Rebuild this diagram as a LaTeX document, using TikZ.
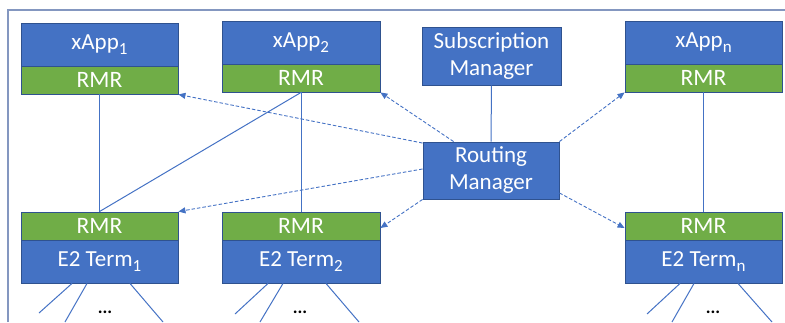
\documentclass[tikz,border=0pt]{standalone}
\usepackage{fontspec}
\setmainfont{Carlito}
\usetikzlibrary{arrows.meta,calc}
\definecolor{boxblue}{HTML}{4472C4}
\definecolor{boxgreen}{HTML}{70AD47}
\definecolor{edgeblue}{HTML}{2F528F}
\definecolor{lineblue}{HTML}{4472C4}
\definecolor{framecol}{HTML}{8497C0}
\newcommand{\sbs}[1]{\raisebox{-5.5pt}{\fontsize{17}{17}\selectfont #1}}
\tikzset{
  bluebox/.style={draw=edgeblue,line width=0.9pt,fill=boxblue,text=white,inner sep=0pt,
    font=\fontsize{23}{27}\selectfont,align=center},
  greenbox/.style={draw=edgeblue,line width=0.9pt,fill=boxgreen,text=white,inner sep=0pt,
    font=\fontsize{23.5}{27}\selectfont},
  conn/.style={draw=lineblue,line width=1pt},
  dconn/.style={draw=lineblue,line width=0.9pt,dash pattern=on 3.5pt off 2pt,
    -{Triangle[length=7pt,width=6pt]}},
  dots/.style={font=\fontsize{18}{18}\selectfont\bfseries,inner sep=0pt}
}
\begin{document}
\begin{tikzpicture}[x=1pt,y=-1pt]
\useasboundingbox (0,0) rectangle (785,322);
\draw[framecol,line width=1.6pt] (8,322) -- (8,10) -- (785,10);
% top xApps
\node[bluebox,minimum width=157pt,minimum height=43pt] (x1) at (99.5,44.5) {xApp\sbs{1}};
\node[greenbox,minimum width=157pt,minimum height=28pt] (r1) at (99.5,80) {RMR};
\node[bluebox,minimum width=158pt,minimum height=43pt] (x2) at (301,42.5) {xApp\sbs{2}};
\node[greenbox,minimum width=158pt,minimum height=28pt] (r2) at (301,78) {RMR};
\node[bluebox,minimum width=157pt,minimum height=43pt] (xn) at (703.5,42.5) {xApp\sbs{n}};
\node[greenbox,minimum width=157pt,minimum height=28pt] (rn) at (703.5,78) {RMR};
\node[bluebox,minimum width=139pt,minimum height=58pt] (sub) at (491.5,56) {Subscription\\Manager};
\node[bluebox,minimum width=136pt,minimum height=57pt] (rm) at (491,170.5) {Routing\\Manager};
% bottom E2 terms
\node[greenbox,minimum width=157pt,minimum height=28pt] (e1r) at (99.5,226) {RMR};
\node[bluebox,minimum width=157pt,minimum height=43pt] (e1) at (99.5,261.5) {E2 Term\sbs{1}};
\node[greenbox,minimum width=158pt,minimum height=28pt] (e2r) at (301,226) {RMR};
\node[bluebox,minimum width=158pt,minimum height=43pt] (e2) at (301,261.5) {E2 Term\sbs{2}};
\node[greenbox,minimum width=157pt,minimum height=28pt] (enr) at (703.5,226) {RMR};
\node[bluebox,minimum width=157pt,minimum height=43pt] (en) at (703.5,261.5) {E2 Term\sbs{n}};
% solid connectors
\draw[conn] (r1.south) -- (e1r.north);
\draw[conn] (r2.south) -- (e2r.north);
\draw[conn] (r2.south) -- (e1r.north);
\draw[conn] (rn.south) -- (enr.north);
\draw[conn] (sub.south) -- (rm.north);
% dashed arrows
\draw[dconn] ([yshift=-1.5pt]rm.north west) -- (r1.south east);
\draw[dconn] ([xshift=31pt]rm.north west) -- (r2.south east);
\draw[dconn] (rm.north east) -- (rn.south west);
\draw[dconn] ([yshift=1.5pt]rm.west) -- (e1r.north east);
\draw[dconn] (rm.south west) -- ([yshift=-2pt]e2r.east);
\draw[dconn] ([yshift=-22.5pt]rm.east) -- ([yshift=-2pt]enr.west);
% fan-out lines
\coordinate (a1) at (39,313); \coordinate (a2) at (65,322); \coordinate (a3) at (163,322);
\coordinate (b1) at (235,314); \coordinate (b2) at (260,322); \coordinate (b3) at (359,322);
\coordinate (c1) at (647,314); \coordinate (c2) at (672,322); \coordinate (c3) at (772,322);
\draw[conn] ([xshift=-27.5pt]e1.south) -- (a1);
\draw[conn] ([xshift=-12.5pt]e1.south) -- (a2);
\draw[conn] ([xshift=30.5pt]e1.south) -- (a3);
\draw[conn] ([xshift=-33pt]e2.south) -- (b1);
\draw[conn] ([xshift=-18pt]e2.south) -- (b2);
\draw[conn] ([xshift=25pt]e2.south) -- (b3);
\draw[conn] ([xshift=-23.5pt]en.south) -- (c1);
\draw[conn] ([xshift=-9.5pt]en.south) -- (c2);
\draw[conn] ([xshift=34.5pt]en.south) -- (c3);
\node[dots] (d1) at (105,312) {...};
\node[dots] (d2) at (300,312) {...};
\node[dots] (dn) at (713,312) {...};
\end{tikzpicture}
\end{document}
